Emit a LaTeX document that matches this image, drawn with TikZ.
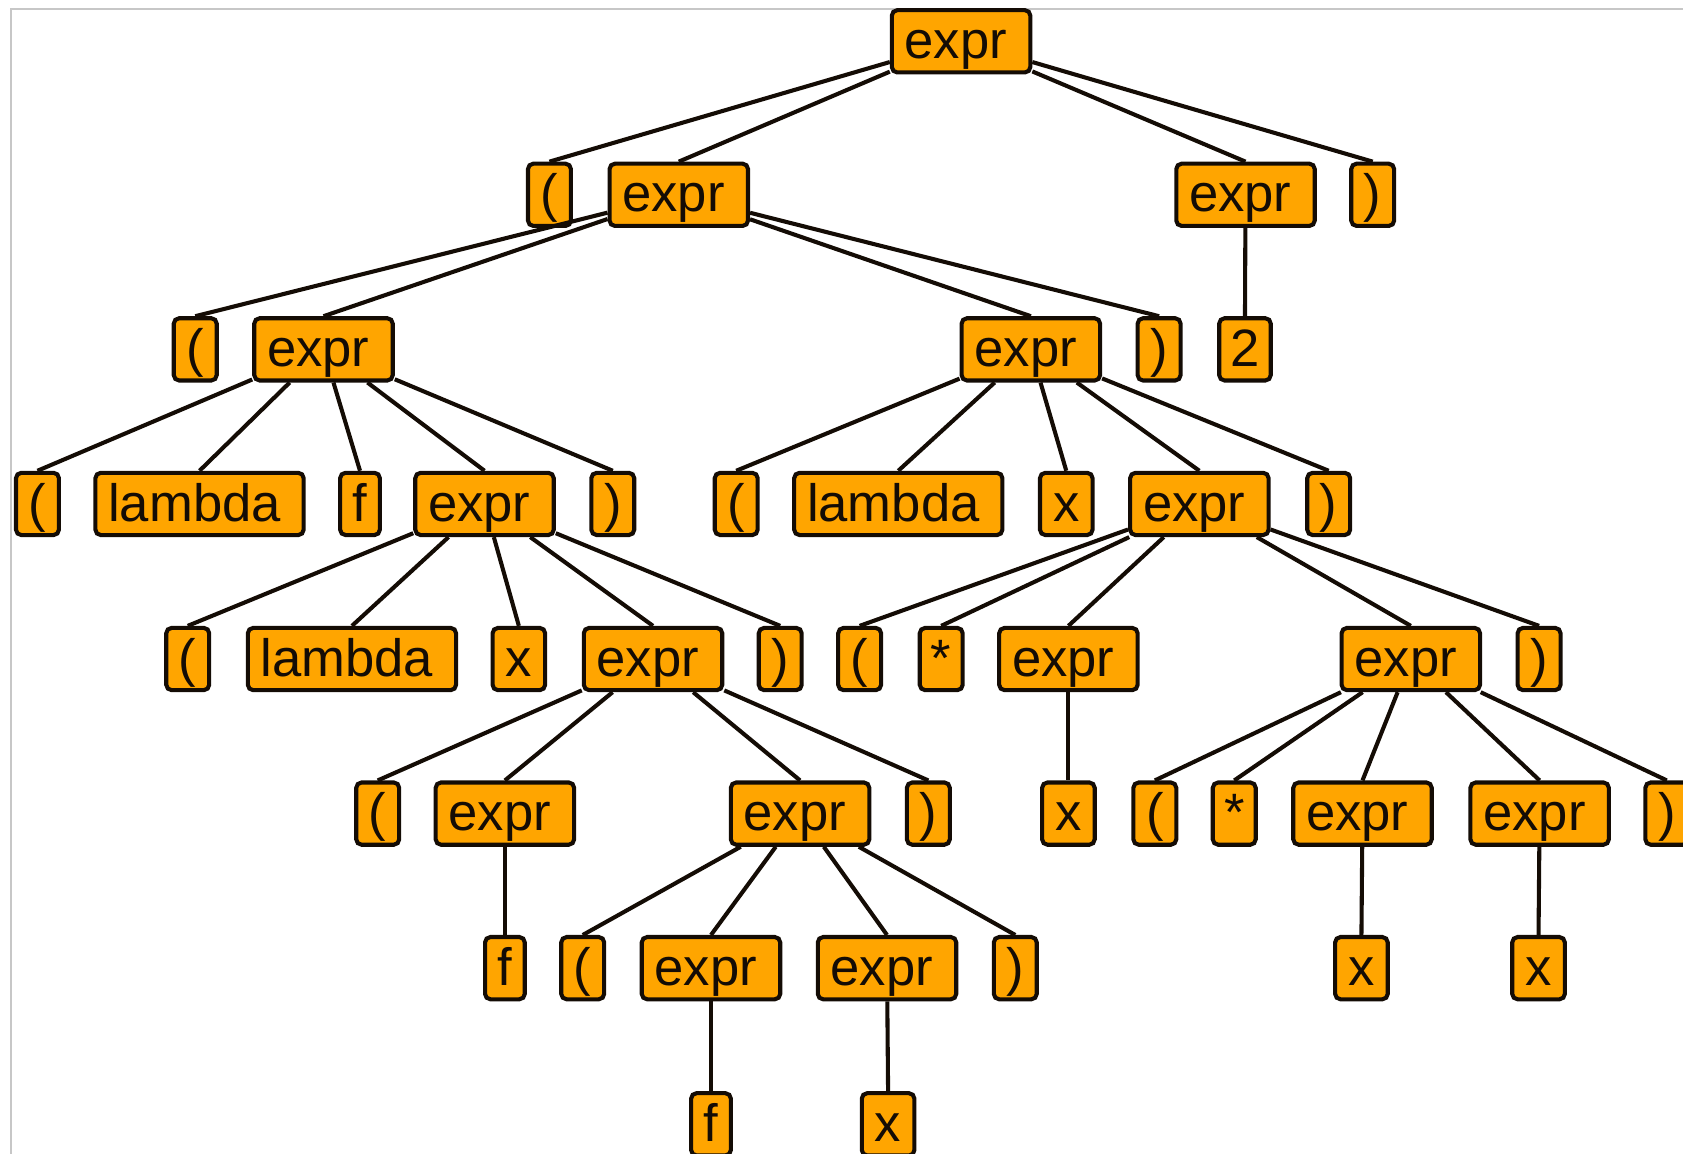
\documentclass[tikz,border=0pt]{standalone}
\usepackage{fontspec}
\setmainfont{Liberation Sans}
\definecolor{boxfill}{RGB}{255,165,0}
\definecolor{ink}{RGB}{20,12,5}
\begin{document}
\begin{tikzpicture}[x=1pt,y=-1pt,
  tok/.style={draw=ink, fill=boxfill, line width=3.8pt, rounded corners=5pt,
    font=\fontsize{49}{50}\selectfont, text=ink, inner xsep=0pt, inner ysep=0pt,
    minimum height=58pt, text height=38pt, text depth=6pt, anchor=west},
  pa/.style={tok, minimum width=40pt},
  ex/.style={tok, text width=105pt, align=left, inner xsep=12pt},
  lam/.style={tok, text width=170pt, align=left, inner xsep=12pt},
  vx/.style={tok, minimum width=49pt},
  vf/.style={tok, minimum width=37pt},
  two/.style={tok, minimum width=48pt},
  edge/.style={draw=ink, line width=3.8pt}]
\useasboundingbox (0,0) rectangle (1568,1075);
\clip (0,0) rectangle (1568,1075);
\draw[black!22, line width=2pt] (10,1080) -- (10,8) -- (1570,8);
% level 0
\node[ex] (r) at (829,38.5) {expr};
% level 1
\node[pa] (a1) at (490,181.5) {(};
\node[ex] (a2) at (566,181.5) {expr};
\node[ex] (a3) at (1094,181.5) {expr};
\node[pa] (a4) at (1257,181.5) {)};
% level 2
\node[pa] (b1) at (160,325.5) {(};
\node[ex] (b2) at (235,325.5) {expr};
\node[ex] (b3) at (894,325.5) {expr};
\node[pa] (b4) at (1058,325.5) {)};
\node[two] (b5) at (1134,325.5) {2};
% level 3
\node[pa] (c1) at (13,469.5) {(};
\node[lam] (c2) at (87,469.5) {lambda};
\node[vf] (c3) at (315,469.5) {f};
\node[ex] (c4) at (385,469.5) {expr};
\node[pa] (c5) at (549,469.5) {)};
\node[pa] (c6) at (664,469.5) {(};
\node[lam] (c7) at (738,469.5) {lambda};
\node[vx] (c8) at (967,469.5) {x};
\node[ex] (c9) at (1051,469.5) {expr};
\node[pa] (c10) at (1216,469.5) {)};
% level 4
\node[pa] (d1) at (153,614) {(};
\node[lam] (d2) at (229,614) {lambda};
\node[vx] (d3) at (457,614) {x};
\node[ex] (d4) at (542,614) {expr};
\node[pa] (d5) at (705,614) {)};
\node[pa] (d6) at (779,614) {(};
\node[pa] (d7) at (855,614) {*};
\node[ex] (d8) at (929,614) {expr};
\node[ex] (d9) at (1248,614) {expr};
\node[pa] (d10) at (1412,614) {)};
% level 5
\node[pa] (e1) at (330,758) {(};
\node[ex] (e2) at (404,758) {expr};
\node[ex] (e3) at (679,758) {expr};
\node[pa] (e4) at (843,758) {)};
\node[vx] (e5) at (969,758) {x};
\node[pa] (e6) at (1054,758) {(};
\node[pa] (e7) at (1128,758) {*};
\node[ex] (e8) at (1203,758) {expr};
\node[ex] (e9) at (1368,758) {expr};
\node[pa] (e10) at (1531,758) {)};
% level 6
\node[vf] (g1) at (450,902) {f};
\node[pa] (g2) at (521,902) {(};
\node[ex] (g3) at (596,902) {expr};
\node[ex] (g4) at (760,902) {expr};
\node[pa] (g5) at (924,902) {)};
\node[vx] (g6) at (1242,902) {x};
\node[vx] (g7) at (1407,902) {x};
% level 7
\node[vf] (h1) at (642,1047.5) {f};
\node[vx] (h2) at (801,1047.5) {x};
% edges
\foreach \p/\c in {r/a1,r/a2,r/a3,r/a4,
  a2/b1,a2/b2,a2/b3,a2/b4,a3/b5,
  b2/c1,b2/c2,b2/c3,b2/c4,b2/c5,
  b3/c6,b3/c7,b3/c8,b3/c9,b3/c10,
  c4/d1,c4/d2,c4/d3,c4/d4,c4/d5,
  c9/d6,c9/d7,c9/d8,c9/d9,c9/d10,
  d4/e1,d4/e2,d4/e3,d4/e4,d8/e5,
  d9/e6,d9/e7,d9/e8,d9/e9,d9/e10,
  e2/g1,e3/g2,e3/g3,e3/g4,e3/g5,e8/g6,e9/g7,
  g3/h1,g4/h2}
  \draw[edge] (\p) -- (\c.north);
\end{tikzpicture}
\end{document}
